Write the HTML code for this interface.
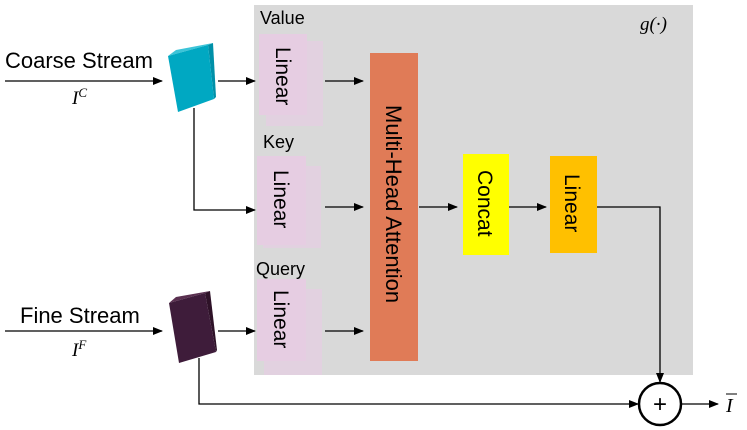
<!DOCTYPE html>
<html><head><meta charset="utf-8"><style>body{margin:0;background:#fff}svg{display:block}</style></head><body>
<svg width="747" height="430" viewBox="0 0 747 430" xmlns="http://www.w3.org/2000/svg" font-family="Liberation Sans, sans-serif">
<defs><marker id="a" markerWidth="10" markerHeight="8" refX="9" refY="4" orient="auto" markerUnits="userSpaceOnUse"><path d="M0,0 L10,4 L0,8 z" fill="#000"/></marker></defs>
<rect x="254" y="5" width="439" height="370" fill="#d9d9d9"/>
<text x="640" y="30" style="font-family:'Liberation Serif',serif;font-style:italic;font-size:19px">g(·)</text>
<g fill="#e6cde2">
<rect x="266" y="41" width="57" height="85" opacity="0.7"/><rect x="259" y="34" width="48" height="81"/>
<rect x="263" y="166" width="58" height="82" opacity="0.7"/><rect x="257" y="156" width="49" height="89"/>
<rect x="264" y="289" width="58" height="86" opacity="0.7"/><rect x="257" y="279" width="49" height="82"/>
</g>
<text x="260" y="24" font-size="18">Value</text>
<text x="263" y="148" font-size="18">Key</text>
<text x="256" y="275" font-size="18">Query</text>
<g font-size="21">
<text transform="translate(276,47) rotate(90)">Linear</text>
<text transform="translate(274,170) rotate(90)">Linear</text>
<text transform="translate(274,290) rotate(90)">Linear</text>
</g>
<rect x="370" y="53" width="48" height="308" fill="#e07b57"/>
<text transform="translate(386,105) rotate(90)" font-size="22">Multi-Head Attention</text>
<rect x="463" y="154" width="46" height="101" fill="#ffff00"/>
<text transform="translate(478,170) rotate(90)" font-size="21">Concat</text>
<rect x="550" y="156" width="47" height="97" fill="#ffc000"/>
<text transform="translate(565,174) rotate(90)" font-size="21">Linear</text>
<!-- blocks -->
<polygon points="168,56 176,50 213,43 208,45" fill="#3cc4d8"/>
<polygon points="208,45 213,43 216,97 214,99" fill="#0090a8"/>
<polygon points="168,56 208,45 214,99 178,112" fill="#00a8c2"/>
<polygon points="169,303 176,297 210,291 205,293" fill="#5a3050"/>
<polygon points="205,293 210,291 217,350 216,352" fill="#2e1228"/>
<polygon points="169,303 205,293 216,352 179,363" fill="#3e1c3a"/>
<!-- lines -->
<g stroke="#000" stroke-width="1.3" fill="none" marker-end="url(#a)">
<path d="M5,81 H162"/><path d="M5,331 H162"/>
<path d="M218,81 H255"/><path d="M218,331 H255"/>
<path d="M194,108 V210 H255"/>
<path d="M325,81 H363"/><path d="M325,207 H363"/><path d="M325,331 H363"/>
<path d="M419,207 H457"/><path d="M509,207 H546"/>
<path d="M597,207 H660 V382"/>
<path d="M199,358 V404 H638"/>
<path d="M681,404 H718"/>
</g>
<circle cx="660" cy="404" r="21" fill="#fff" stroke="#000" stroke-width="2.5"/>
<text x="660" y="412" font-size="24" text-anchor="middle">+</text>
<text x="5" y="68" font-size="22">Coarse Stream</text>
<text x="20" y="323" font-size="22">Fine Stream</text>
<text x="72" y="104" style="font-family:'Liberation Serif',serif;font-style:italic;font-size:19px">I<tspan dy="-7" style="font-size:13px">C</tspan></text>
<text x="72" y="356" style="font-family:'Liberation Serif',serif;font-style:italic;font-size:19px">I<tspan dy="-7" style="font-size:13px">F</tspan></text>
<text x="726" y="412" style="font-family:'Liberation Serif',serif;font-style:italic;font-size:20px">I</text>
<line x1="726" y1="394" x2="737" y2="394" stroke="#000" stroke-width="1"/>
</svg>
</body></html>
